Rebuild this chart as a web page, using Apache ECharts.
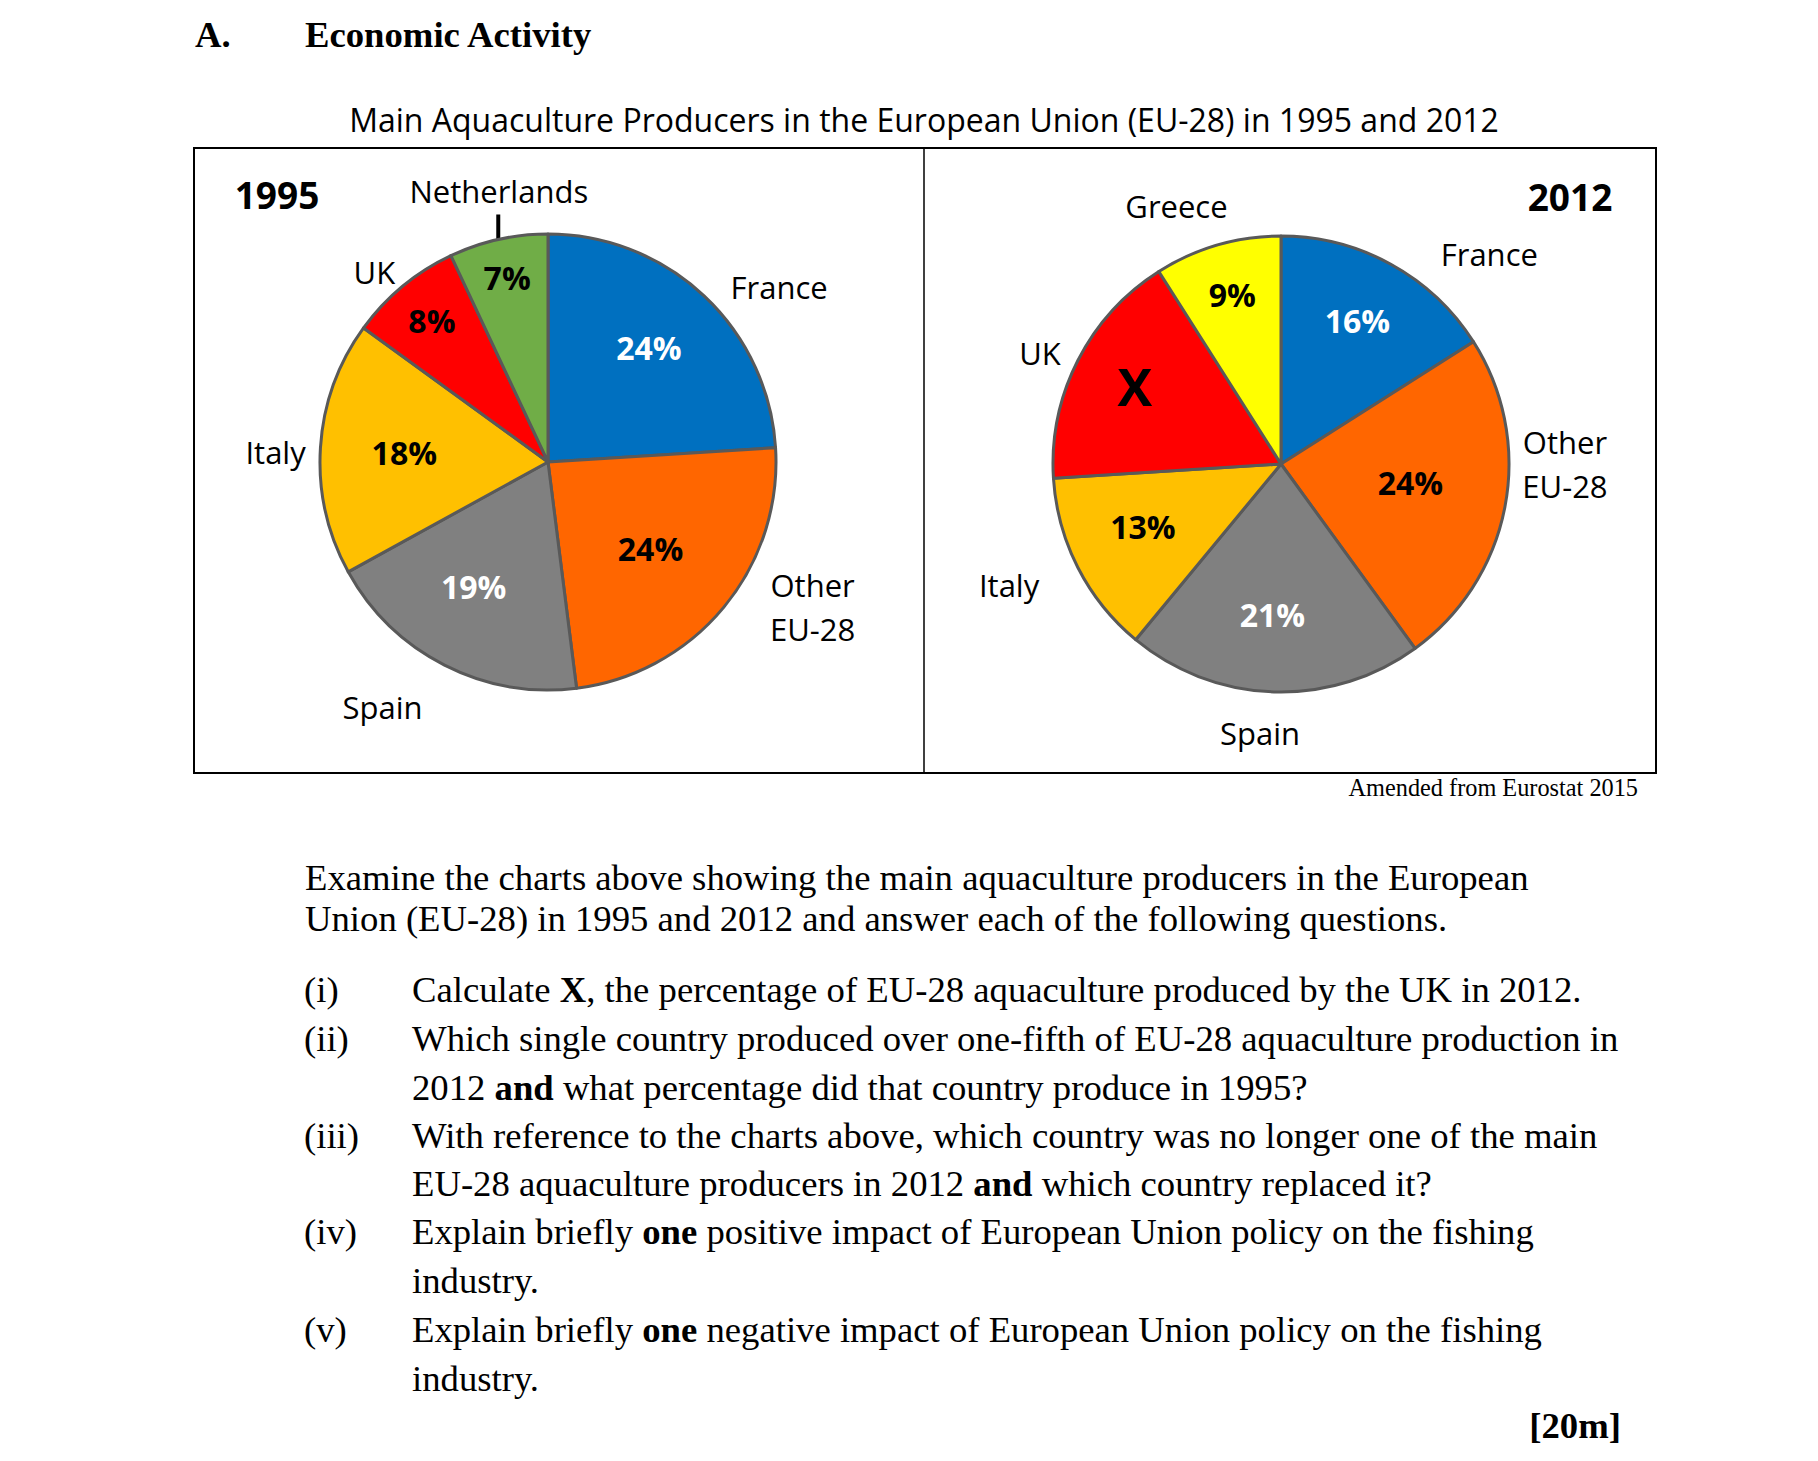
<!DOCTYPE html>
<html><head><meta charset="utf-8">
<script src="https://cdn.jsdelivr.net/npm/echarts@6/dist/echarts.min.js"></script>
<style>
html,body{margin:0;padding:0;background:#fff;}
#chart{position:absolute;left:0;top:0;width:1818px;height:1461px;}
.t{position:absolute;white-space:nowrap;font-family:'Liberation Serif','Times New Roman',serif;font-size:36.7px;line-height:36px;color:#000;}
.b{font-weight:bold;}
</style></head><body>
<div id="chart"></div>
<div class="t b" style="left:195px;top:17px">A.</div>
<div class="t b" style="left:305px;top:17px">Economic Activity</div>
<div class="t" style="right:180px;top:776px;font-size:24.3px;line-height:24px">Amended from Eurostat 2015</div>
<div class="t" style="left:305px;top:860px">Examine the charts above showing the main aquaculture producers in the European</div>
<div class="t" style="left:305px;top:901px">Union (EU-28) in 1995 and 2012 and answer each of the following questions.</div>
<div class="t" style="left:304px;top:972px">(i)</div>
<div class="t" style="left:412px;top:972px">Calculate <b>X</b>, the percentage of EU-28 aquaculture produced by the UK in 2012.</div>
<div class="t" style="left:304px;top:1021px">(ii)</div>
<div class="t" style="left:412px;top:1021px">Which single country produced over one-fifth of EU-28 aquaculture production in</div>
<div class="t" style="left:412px;top:1070px">2012 <b>and</b> what percentage did that country produce in 1995?</div>
<div class="t" style="left:304px;top:1118px">(iii)</div>
<div class="t" style="left:412px;top:1118px">With reference to the charts above, which country was no longer one of the main</div>
<div class="t" style="left:412px;top:1166px">EU-28 aquaculture producers in 2012 <b>and</b> which country replaced it?</div>
<div class="t" style="left:304px;top:1214px">(iv)</div>
<div class="t" style="left:412px;top:1214px">Explain briefly <b>one</b> positive impact of European Union policy on the fishing</div>
<div class="t" style="left:412px;top:1263px">industry.</div>
<div class="t" style="left:304px;top:1312px">(v)</div>
<div class="t" style="left:412px;top:1312px">Explain briefly <b>one</b> negative impact of European Union policy on the fishing</div>
<div class="t" style="left:412px;top:1361px">industry.</div>
<div class="t b" style="right:197px;top:1408px">[20m]</div>
<script>
// ---------------- DATA ----------------
const categories1995 = ['France', 'Other EU-28', 'Spain', 'Italy', 'UK', 'Netherlands'];
const values1995 = [24, 24, 19, 18, 8, 7];
const valueLabels1995 = ['24%', '24%', '19%', '18%', '8%', '7%'];
const nameLabels1995 = ['France', 'Other\nEU-28', 'Spain', 'Italy', 'UK', 'Netherlands'];

const categories2012 = ['France', 'Other EU-28', 'Spain', 'Italy', 'UK', 'Greece'];
const values2012 = [16, 24, 21, 13, 17, 9];
const valueLabels2012 = ['16%', '24%', '21%', '13%', 'X', '9%'];
const nameLabels2012 = ['France', 'Other\nEU-28', 'Spain', 'Italy', 'UK', 'Greece'];

const chartTitle = 'Main Aquaculture Producers in the European Union (EU-28) in 1995 and 2012';

// ---------------- STYLE ----------------
const colorMap = {
  'France': '#0070C0', 'Other EU-28': '#FF6600', 'Spain': '#808080', 'Italy': '#FFC000',
  'UK': '#FF0000', 'Netherlands': '#70AD47', 'Greece': '#FFFF00'
};
const whiteValueLabel = { 'France': true, 'Spain': true };
const SANS = '"Open Sans", "Noto Sans", sans-serif';
const geo1995 = { center: [548, 462], r: 228 };
const geo2012 = { center: [1281, 464], r: 228 };
const valNudge1995 = [[1, -8], [-10, -7], [-8, -6], [2, 0], [-23, -29], [-9, -42]];
const nameNudge1995 = [[36, 33], [45, -37], [-36, -9], [12, 8], [8, 30], [13, 7]];
const valNudge2012 = [[6, -16], [-14, -9], [-4, 5], [-8, -4], [-16, -12], [-8, -29]];
const nameNudge2012 = [[71, 40], [4, -53], [-12, -16], [-18, -8], [13, 18], [-25, 16]];

function pieSeries(cats, vals, valLabels, nameLabels, geo, valNudge, nameNudge) {
  const base = {
    type: 'pie', center: geo.center, startAngle: 90, clockwise: true,
    silent: true, animation: false, avoidLabelOverlap: false,
    emphasis: { disabled: true }, labelLine: { show: false }
  };
  const clear = { color: 'rgba(0,0,0,0)', borderWidth: 0 };
  return [
    Object.assign({}, base, {
      radius: [0, geo.r],
      label: { show: false },
      itemStyle: { borderColor: '#595959', borderWidth: 3 },
      data: cats.map((c, i) => ({ name: c, value: vals[i], itemStyle: { color: colorMap[c] } }))
    }),
    Object.assign({}, base, {
      radius: [58, geo.r],
      itemStyle: clear,
      label: {
        show: true, position: 'inside', fontFamily: SANS, fontWeight: 'bold', fontSize: 32,
        textBorderWidth: 0, formatter: p => valLabels[p.dataIndex]
      },
      labelLayout: p => ({ dx: valNudge[p.dataIndex][0], dy: valNudge[p.dataIndex][1] }),
      data: cats.map((c, i) => ({
        name: c, value: vals[i],
        label: {
          color: whiteValueLabel[c] ? '#ffffff' : '#000000',
          fontSize: valLabels[i] === 'X' ? 52 : 32
        }
      }))
    }),
    Object.assign({}, base, {
      radius: [250, 314],
      itemStyle: clear,
      label: {
        show: true, position: 'inside', fontFamily: SANS, fontSize: 31, lineHeight: 44,
        color: '#000', textBorderWidth: 0, formatter: p => nameLabels[p.dataIndex]
      },
      labelLayout: p => ({ dx: nameNudge[p.dataIndex][0], dy: nameNudge[p.dataIndex][1] }),
      data: cats.map((c, i) => ({ name: c, value: vals[i] }))
    })
  ];
}

// leader tick for the Netherlands slice, derived from its mid angle
function leaderLine(cats, vals, name, geo) {
  const total = vals.reduce((a, b) => a + b, 0);
  let cum = 0, mid = 0;
  cats.forEach((c, i) => { if (c === name) mid = cum + vals[i] / 2; cum += vals[i]; });
  const th = mid / total * 2 * Math.PI;
  const x = geo.center[0] + geo.r * Math.sin(th);
  const y = geo.center[1] - geo.r * Math.cos(th);
  return { type: 'line', silent: true, shape: { x1: x, y1: y - 25, x2: x, y2: y }, style: { stroke: '#000', lineWidth: 4 } };
}

const chart = echarts.init(document.getElementById('chart'), null, { renderer: 'svg', width: 1818, height: 1461 });
chart.setOption({
  animation: false,
  backgroundColor: '#fff',
  graphic: [
    { type: 'text', x: 924, y: 119, silent: true, style: { text: chartTitle, font: '32px ' + SANS, fill: '#000', textAlign: 'center', textVerticalAlign: 'middle' } },
    { type: 'rect', silent: true, shape: { x: 194, y: 148, width: 1462, height: 625 }, style: { fill: 'none', stroke: '#000', lineWidth: 2 } },
    { type: 'line', silent: true, shape: { x1: 924, y1: 148, x2: 924, y2: 773 }, style: { stroke: '#000', lineWidth: 1.5 } },
    { type: 'text', x: 277, y: 194, silent: true, style: { text: '1995', font: 'bold 37px ' + SANS, fill: '#000', textAlign: 'center', textVerticalAlign: 'middle' } },
    { type: 'text', x: 1570, y: 196, silent: true, style: { text: '2012', font: 'bold 37px ' + SANS, fill: '#000', textAlign: 'center', textVerticalAlign: 'middle' } },
    leaderLine(categories1995, values1995, 'Netherlands', geo1995)
  ],
  series: [].concat(
    pieSeries(categories1995, values1995, valueLabels1995, nameLabels1995, geo1995, valNudge1995, nameNudge1995),
    pieSeries(categories2012, values2012, valueLabels2012, nameLabels2012, geo2012, valNudge2012, nameNudge2012)
  )
});
</script>
</body></html>
